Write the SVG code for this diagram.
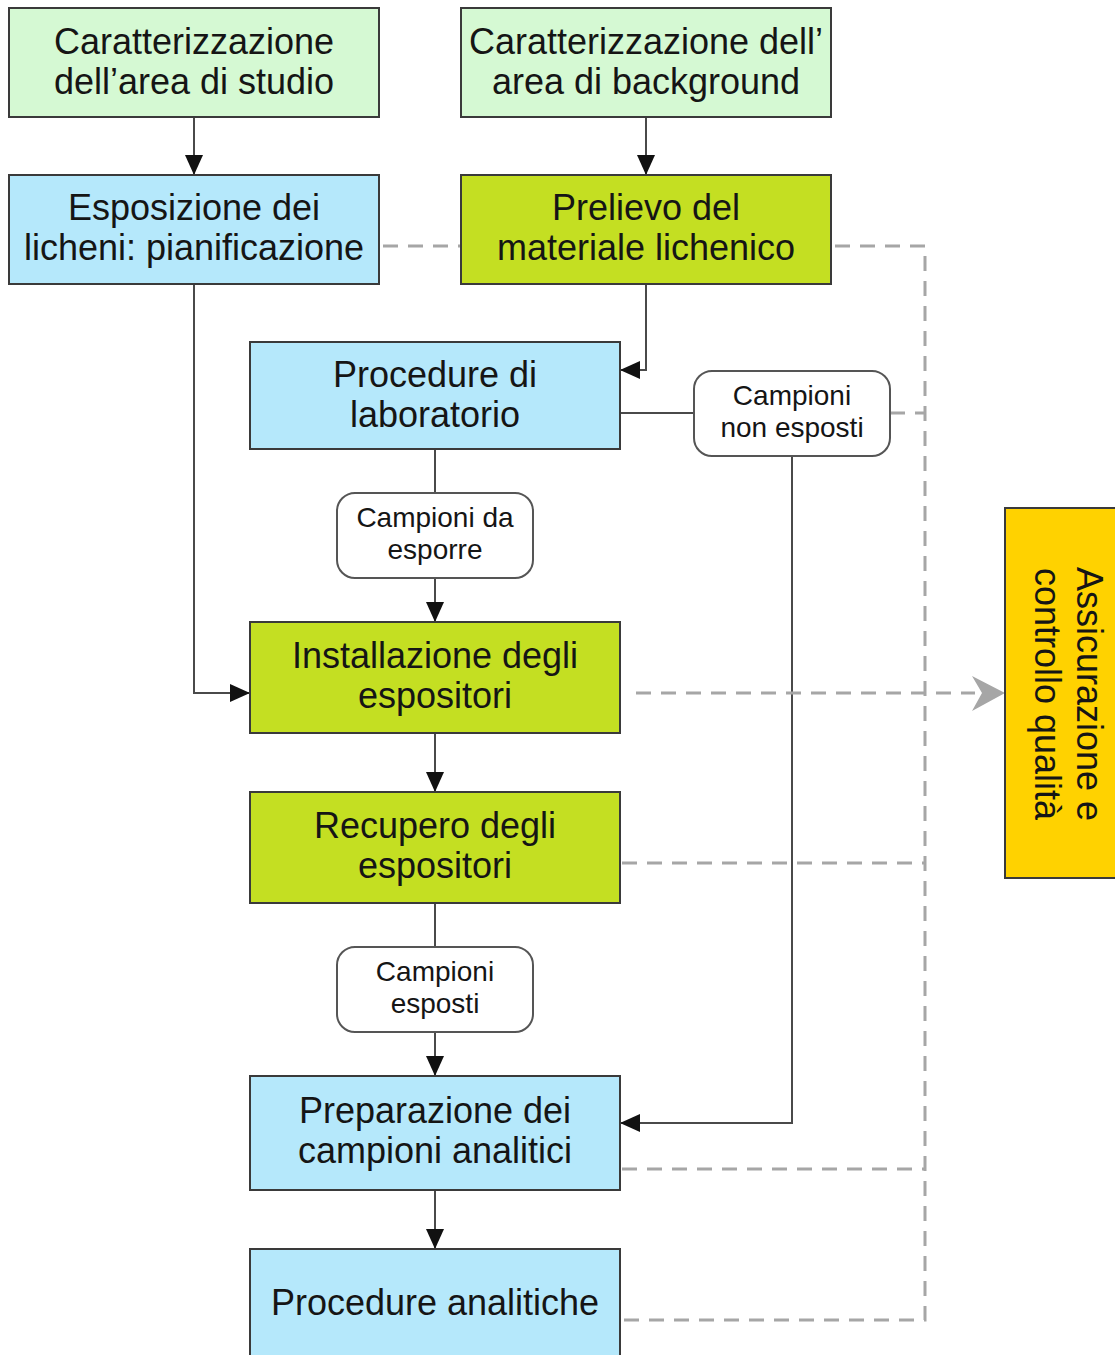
<svg xmlns="http://www.w3.org/2000/svg" width="1115" height="1355" viewBox="0 0 1115 1355">
<style>
  .box { stroke: #3a3a3a; stroke-width: 2; }
  .lg { fill: #d5f9d3; }
  .lb { fill: #b5e8fb; }
  .yg { fill: #c4df22; }
  .qa { fill: #ffd200; }
  .rbox { fill: #ffffff; stroke: #555555; stroke-width: 2; }
  .t { font-family: "Liberation Sans", Arial, sans-serif; font-size: 36px; fill: #151515; text-anchor: middle; }
  .s { font-family: "Liberation Sans", Arial, sans-serif; font-size: 28px; fill: #151515; text-anchor: middle; }
  .conn { fill: none; stroke: #4a4a4a; stroke-width: 2; }
  .dash { fill: none; stroke: #a6a6a6; stroke-width: 3; stroke-dasharray: 15 10; }
</style>
<defs>
  <marker id="arr" markerUnits="userSpaceOnUse" markerWidth="20" markerHeight="18" refX="20" refY="9" orient="auto">
    <path d="M0,0 L20,9 L0,18 Z" fill="#111111"/>
  </marker>
</defs>
<rect width="1115" height="1355" fill="#ffffff"/>

<g id="connectors">
  <line class="conn" x1="194" y1="117" x2="194" y2="175" marker-end="url(#arr)"/>
  <line class="conn" x1="646" y1="117" x2="646" y2="175" marker-end="url(#arr)"/>
  <polyline class="conn" points="194,284 194,693 250,693" marker-end="url(#arr)"/>
  <polyline class="conn" points="646,284 646,370 620,370" marker-end="url(#arr)"/>
  <line class="conn" x1="435" y1="449" x2="435" y2="493"/>
  <line class="conn" x1="435" y1="578" x2="435" y2="622" marker-end="url(#arr)"/>
  <line class="conn" x1="620" y1="413" x2="694" y2="413"/>
  <polyline class="conn" points="792,456 792,1123 620,1123" marker-end="url(#arr)"/>
  <line class="conn" x1="435" y1="733" x2="435" y2="792" marker-end="url(#arr)"/>
  <line class="conn" x1="435" y1="903" x2="435" y2="947"/>
  <line class="conn" x1="435" y1="1032" x2="435" y2="1076" marker-end="url(#arr)"/>
  <line class="conn" x1="435" y1="1190" x2="435" y2="1249" marker-end="url(#arr)"/>

  <line class="dash" x1="383" y1="246" x2="461" y2="246"/>
  <polyline class="dash" points="835,246 925,246 925,1320 620,1320"/>
  <line class="dash" x1="890" y1="413" x2="925" y2="413"/>
  <line class="dash" x1="636" y1="693" x2="975" y2="693"/>
  <path d="M972,676 L1005,693 L972,711 L982,693 Z" fill="#a6a6a6"/>
  <line class="dash" x1="622" y1="863" x2="925" y2="863"/>
  <line class="dash" x1="622" y1="1169" x2="925" y2="1169"/>
</g>

<g id="n-caratt-studio">
  <rect class="box lg" x="9" y="8" width="370" height="109"/>
  <text class="t" x="194" y="54">Caratterizzazione</text>
  <text class="t" x="194" y="94">dell’area di studio</text>
</g>
<g id="n-caratt-background">
  <rect class="box lg" x="461" y="8" width="370" height="109"/>
  <text class="t" x="646" y="54">Caratterizzazione dell’</text>
  <text class="t" x="646" y="94">area di background</text>
</g>
<g id="n-esposizione">
  <rect class="box lb" x="9" y="175" width="370" height="109"/>
  <text class="t" x="194" y="220">Esposizione dei</text>
  <text class="t" x="194" y="260">licheni: pianificazione</text>
</g>
<g id="n-prelievo">
  <rect class="box yg" x="461" y="175" width="370" height="109"/>
  <text class="t" x="646" y="220">Prelievo del</text>
  <text class="t" x="646" y="260">materiale lichenico</text>
</g>
<g id="n-laboratorio">
  <rect class="box lb" x="250" y="342" width="370" height="107"/>
  <text class="t" x="435" y="387">Procedure di</text>
  <text class="t" x="435" y="427">laboratorio</text>
</g>
<g id="n-non-esposti">
  <rect class="rbox" x="694" y="371" width="196" height="85" rx="18"/>
  <text class="s" x="792" y="405">Campioni</text>
  <text class="s" x="792" y="437">non esposti</text>
</g>
<g id="n-da-esporre">
  <rect class="rbox" x="337" y="493" width="196" height="85" rx="18"/>
  <text class="s" x="435" y="527">Campioni da</text>
  <text class="s" x="435" y="559">esporre</text>
</g>
<g id="n-installazione">
  <rect class="box yg" x="250" y="622" width="370" height="111"/>
  <text class="t" x="435" y="668">Installazione degli</text>
  <text class="t" x="435" y="708">espositori</text>
</g>
<g id="n-recupero">
  <rect class="box yg" x="250" y="792" width="370" height="111"/>
  <text class="t" x="435" y="838">Recupero degli</text>
  <text class="t" x="435" y="878">espositori</text>
</g>
<g id="n-esposti">
  <rect class="rbox" x="337" y="947" width="196" height="85" rx="18"/>
  <text class="s" x="435" y="981">Campioni</text>
  <text class="s" x="435" y="1013">esposti</text>
</g>
<g id="n-preparazione">
  <rect class="box lb" x="250" y="1076" width="370" height="114"/>
  <text class="t" x="435" y="1123">Preparazione dei</text>
  <text class="t" x="435" y="1163">campioni analitici</text>
</g>
<g id="n-analitiche">
  <rect class="box lb" x="250" y="1249" width="370" height="130"/>
  <text class="t" x="435" y="1315">Procedure analitiche</text>
</g>
<g id="n-qa">
  <rect class="box qa" x="1005" y="508" width="120" height="370"/>
  <g transform="translate(1056,694) rotate(90)">
    <text class="t" x="0" y="-21">Assicurazione e</text>
    <text class="t" x="0" y="21">controllo qualità</text>
  </g>
</g>
</svg>
